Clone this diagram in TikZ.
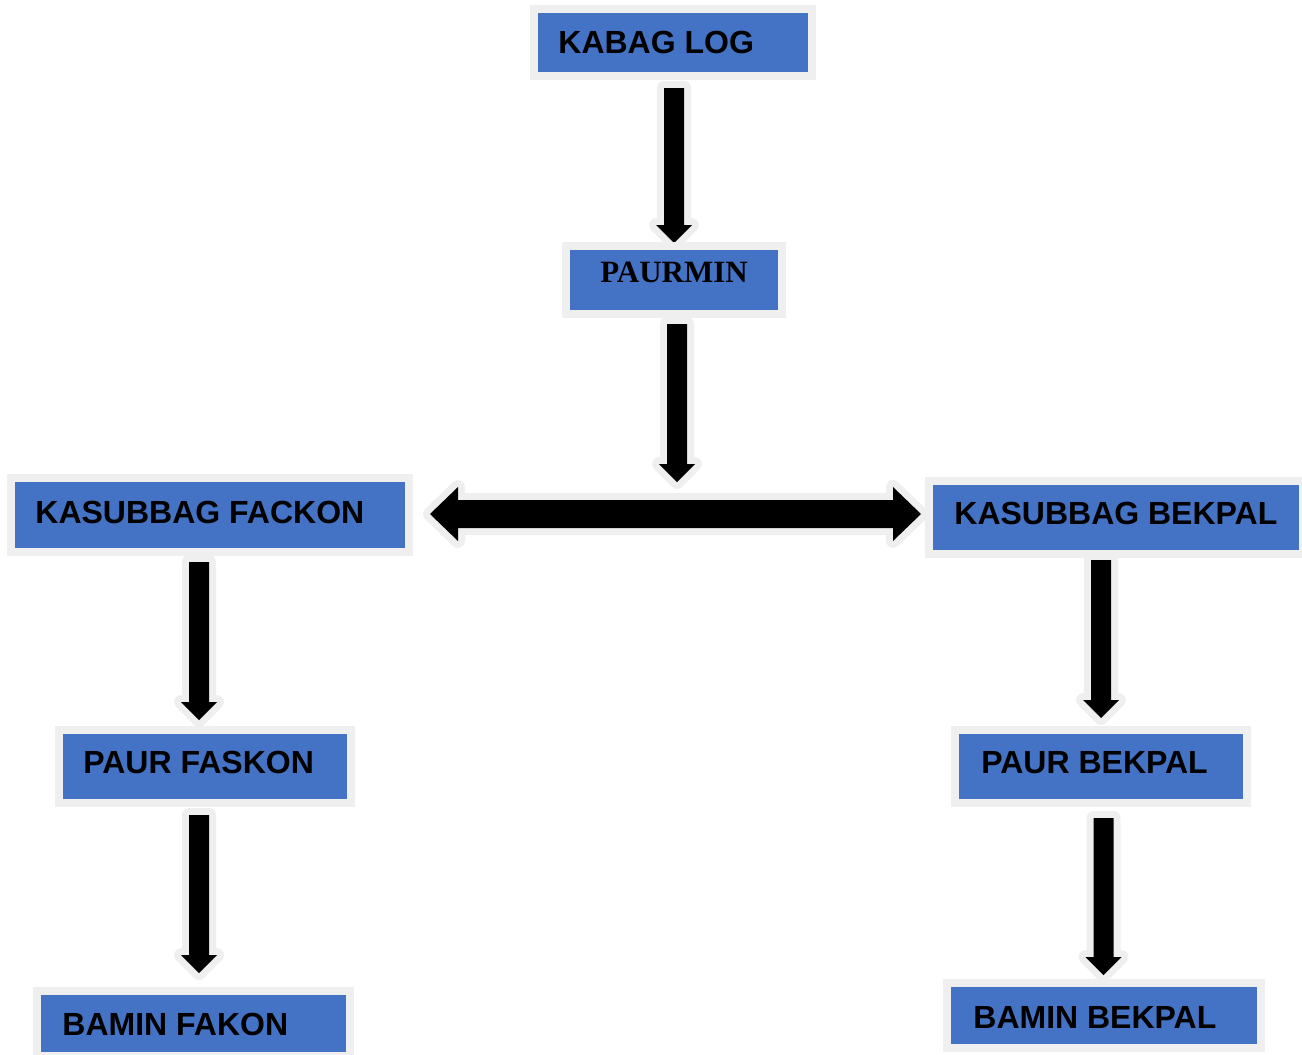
\documentclass[tikz,border=0pt]{standalone}
\usepackage{fontspec}
\setmainfont{Liberation Sans}
\newfontfamily\paurfont{Liberation Serif}
\usetikzlibrary{positioning,calc,backgrounds}

\definecolor{boxblue}{HTML}{4472C4}
\definecolor{edgegray}{HTML}{EFEFEF}

\tikzset{
  box/.style={draw=edgegray, line width=4pt, fill=boxblue, outer sep=0pt, inner sep=0pt},
  lbl/.style={inner sep=0pt, font=\bfseries\fontsize{16pt}{19pt}\selectfont,
    text height=11.5pt, text depth=0pt},
  blockarr/.style={fill=black, preaction={draw=edgegray, line width=7pt, line join=round}},
  blockdown/.style={blockarr, to path={-- ++(5pt,0) -- ($(\tikztotarget)+(5pt,9pt)$)
    -- ++(4pt,0) -- (\tikztotarget) -- ++(-9pt,9pt) -- ++(4pt,0)
    -- ($(\tikztostart)+(-5pt,0)$) -- cycle}},
  blockboth/.style={blockarr, to path={-- ++(14pt,13.5pt) -- ++(0,-6.5pt)
    -- ($(\tikztotarget)+(-14pt,7pt)$) -- ++(0,6.5pt) -- (\tikztotarget)
    -- ++(-14pt,-13.5pt) -- ++(0,6.5pt) -- ($(\tikztostart)+(14pt,-7pt)$)
    -- ++(0,-6.5pt) -- cycle}}
}

\begin{document}
\begin{tikzpicture}[x=0.5pt,y=-0.5pt]
        \useasboundingbox (0,0) rectangle (1302,1055);

        % draw boxes
        \node[box, minimum width=139pt, minimum height=33.5pt] (kabag) at (673,42.5) {};
        \node[box, minimum width=108pt, minimum height=34pt,
          font=\paurfont\bfseries\fontsize{15.5pt}{18pt}\selectfont,
          text height=10.3pt, text depth=8pt] (paurmin) at (674,280) {PAURMIN};
        \node[box, minimum width=199pt, minimum height=37pt] (fackon) at (210,515) {};
        \node[box, minimum width=187pt, minimum height=36.5pt] (bekpal) at (1116,517.5) {};
        \node[box, minimum width=146pt, minimum height=36.5pt] (faskon) at (205,766.5) {};
        \node[box, minimum width=146pt, minimum height=36.5pt] (paurbekpal) at (1101,766.5) {};
        \node[box, minimum width=156.5pt, minimum height=32.5pt] (baminfakon) at (193.5,1023.5) {};
        \node[box, minimum width=157pt, minimum height=32.5pt] (baminbekpal) at (1104,1015.5) {};

        % draw labels
        \node[lbl, right=12pt of kabag.west, yshift=0.5pt] (kabag-t) {KABAG LOG};
        \node[lbl, right=12pt of fackon.west, yshift=1.75pt] (fackon-t) {KASUBBAG FACKON};
        \node[lbl, right=12.5pt of bekpal.west, yshift=2.25pt] (bekpal-t) {KASUBBAG BEKPAL};
        \node[lbl, right=12pt of faskon.west, yshift=2.5pt] (faskon-t) {PAUR FASKON};
        \node[lbl, right=13pt of paurbekpal.west, yshift=2.5pt] (paurbekpal-t) {PAUR BEKPAL};
        \node[lbl, right=12.5pt of baminfakon.west] (baminfakon-t) {BAMIN FAKON};
        \node[lbl, right=13pt of baminbekpal.west, yshift=-0.75pt] (baminbekpal-t) {BAMIN BEKPAL};

        \coordinate (hub) at (677,482);

        % draw arrows
        \begin{scope}[on background layer]
          \path[blockdown] ([xshift=0.5pt,yshift=-6pt]kabag.south) to ([yshift=1.5pt]paurmin.north);
          \path[blockdown] ([xshift=1.5pt,yshift=-5pt]paurmin.south) to (hub);
          \path[blockboth] ([xshift=10.5pt,yshift=0.5pt]fackon.east) to ([xshift=-4pt,yshift=1.75pt]bekpal.west);
          \path[blockdown] ([xshift=-5.5pt,yshift=-5pt]fackon.south) to ([xshift=-3pt,yshift=5pt]faskon.north);
          \path[blockdown] ([xshift=-3pt,yshift=-6pt]faskon.south) to ([xshift=2.75pt,yshift=9pt]baminfakon.north);
          \path[blockdown] ([xshift=-7.5pt,yshift=-3pt]bekpal.south) to ([yshift=6pt]paurbekpal.north);
          \path[blockdown] ([xshift=1.25pt,yshift=-7.5pt]paurbekpal.south) to ([xshift=-0.25pt,yshift=4pt]baminbekpal.north);
        \end{scope}
\end{tikzpicture}
\end{document}
